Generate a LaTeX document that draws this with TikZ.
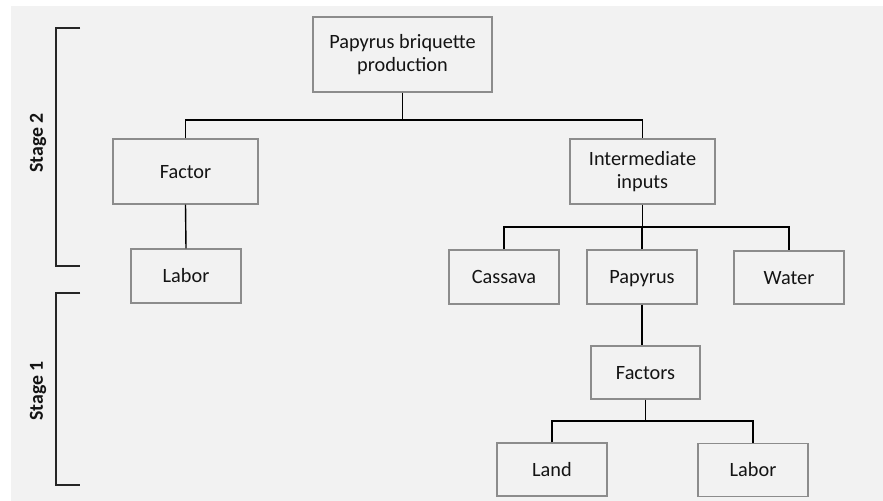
\documentclass[tikz,border=0pt]{standalone}
\usepackage{fontspec}
\setmainfont{Carlito}
\definecolor{bg}{HTML}{F2F2F2}
\definecolor{boxline}{RGB}{140,140,140}
\definecolor{txt}{HTML}{141414}
\begin{document}
\begin{tikzpicture}[x=1bp,y=-1bp,
  box/.style={draw=boxline,line width=1.1bp,inner sep=0pt,align=center,text=txt,
    font=\fontsize{20.3bp}{23.5bp}\selectfont},
  onebox/.style={box,text height=13.5bp,text depth=0pt},
  conn/.style={draw=black,line width=1.4bp},
  brk/.style={draw=black!85,line width=1.4bp},
  stagelbl/.style={rotate=90,font=\bfseries\fontsize{19.8bp}{23.5bp}\selectfont,text=txt}]
\useasboundingbox (0,0) rectangle (883,501);
\fill[white] (0,0) rectangle (883,501);
\fill[bg] (11,6) rectangle (883,501);

% brackets and stage labels
\coordinate (s2a) at (80,28);
\coordinate (s2b) at (80,266);
\draw[brk] (s2a) -- (56,28) -- (56,266) -- (s2b);
\coordinate (s1a) at (80,293);
\coordinate (s1b) at (80,485);
\draw[brk] (s1a) -- (56,293) -- (56,485) -- (s1b);
\node[stagelbl] (stage2) at (38,143) {Stage 2};
\node[stagelbl] (stage1) at (38,391) {Stage 1};

% nodes
\node[box,minimum width=179bp,minimum height=75bp] (top) at (402.5,54.5) {Papyrus briquette\\production};
\node[onebox,minimum width=145bp,minimum height=65bp] (factor) at (185.5,171.5) {Factor};
\node[onebox,minimum width=110bp,minimum height=54bp] (laborL) at (186,276) {Labor};
\node[box,minimum width=145bp,minimum height=65bp] (inter) at (642.5,171.5) {Intermediate\\inputs};
\node[onebox,minimum width=110bp,minimum height=54bp] (cassava) at (504,277) {Cassava};
\node[onebox,minimum width=110bp,minimum height=54bp] (papyrus) at (642,277) {Papyrus};
\node[onebox,minimum width=110bp,minimum height=53bp] (water) at (789,277.5) {Water};
\node[onebox,minimum width=109bp,minimum height=53bp] (factors) at (645.5,372.5) {Factors};
\node[onebox,minimum width=110bp,minimum height=53bp] (land) at (552,469.5) {Land};
\node[onebox,minimum width=110bp,minimum height=53bp] (laborR) at (753,470) {Labor};

% connectors
\coordinate (j1) at (402.5,120);
\draw[conn] (top.south) -- (j1);
\draw[conn] (factor.north) -- (factor.north |- j1) -- (inter.north |- j1) -- (inter.north);
\draw[conn] (factor.south) -- (laborL.north);
\coordinate (j2) at (642.5,227);
\draw[conn] (inter.south) -- (j2);
\draw[conn] (cassava.north) -- (cassava.north |- j2) -- (water.north |- j2) -- (water.north);
\draw[conn] (papyrus.north) -- (papyrus.north |- j2);
\draw[conn] (papyrus.south) -- (papyrus.south |- factors.north);
\coordinate (j3) at (645.5,421);
\draw[conn] (factors.south) -- (j3);
\draw[conn] (land.north) -- (land.north |- j3) -- (laborR.north |- j3) -- (laborR.north);
\end{tikzpicture}
\end{document}
